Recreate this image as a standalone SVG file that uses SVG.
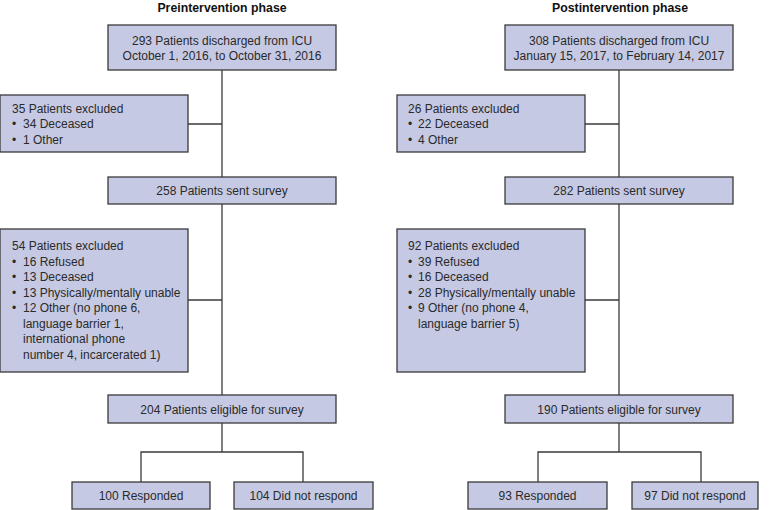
<svg xmlns="http://www.w3.org/2000/svg" width="770" height="510" viewBox="0 0 770 510">
<style>
.box{fill:#c6c9e3;stroke:#3a3a3a;stroke-width:1.3}
.ln{fill:none;stroke:#3a3a3a;stroke-width:1.3}
text{font-family:"Liberation Sans",Arial,sans-serif;font-size:12px;fill:#2a2a2a}
.c{text-anchor:middle}
.t{font-weight:bold;font-size:12.3px;fill:#111}
</style>
<rect width="770" height="510" fill="#fff"/>
<text class="c t" x="222" y="12">Preintervention phase</text>
<text class="c t" x="620" y="12">Postintervention phase</text>
<g id="connectors">
<path class="ln" d="M222 70V395M188 124H222M188 300H222M222 423V452M141 482V452H303V482"/>
<path class="ln" d="M619 70V395M585 124H619M585 300H619M619 423V452M538 482V452H701V482"/>
</g>
<g id="pre_discharged"><rect class="box" x="108" y="25" width="228" height="45"/>
<text class="c" x="222" y="44.5">293 Patients discharged from ICU</text>
<text class="c" x="222" y="59.5">October 1, 2016, to October 31, 2016</text></g>
<g id="pre_excluded1"><rect class="box" x="0" y="95" width="188" height="57"/>
<text x="12" y="112.5">35 Patients excluded</text>
<text x="12" y="128">•</text><text x="23" y="128">34 Deceased</text>
<text x="12" y="143.5">•</text><text x="23" y="143.5">1 Other</text></g>
<g id="pre_sent"><rect class="box" x="108" y="177" width="228" height="27"/>
<text class="c" x="222" y="195">258 Patients sent survey</text></g>
<g id="pre_excluded2"><rect class="box" x="0" y="229" width="188" height="143"/>
<text x="12" y="250">54 Patients excluded</text>
<text x="12" y="265.5">•</text><text x="23" y="265.5">16 Refused</text>
<text x="12" y="281">•</text><text x="23" y="281">13 Deceased</text>
<text x="12" y="296.5">•</text><text x="23" y="296.5">13 Physically/mentally unable</text>
<text x="12" y="312">•</text><text x="23" y="312">12 Other (no phone 6,</text>
<text x="23" y="327.5">language barrier 1,</text>
<text x="23" y="343">international phone</text>
<text x="23" y="358.5">number 4, incarcerated 1)</text></g>
<g id="pre_eligible"><rect class="box" x="108" y="395" width="228" height="28"/>
<text class="c" x="222" y="414">204 Patients eligible for survey</text></g>
<g id="pre_responded"><rect class="box" x="72" y="482" width="138" height="27"/>
<text class="c" x="141" y="500">100 Responded</text></g>
<g id="pre_noresp"><rect class="box" x="234" y="482" width="139" height="27"/>
<text class="c" x="303.5" y="500">104 Did not respond</text></g>

<g id="post_discharged"><rect class="box" x="505" y="25" width="228" height="45"/>
<text class="c" x="619" y="44.5">308 Patients discharged from ICU</text>
<text class="c" x="619" y="59.5">January 15, 2017, to February 14, 2017</text></g>
<g id="post_excluded1"><rect class="box" x="397" y="95" width="188" height="57"/>
<text x="408" y="112.5">26 Patients excluded</text>
<text x="408" y="128">•</text><text x="418" y="128">22 Deceased</text>
<text x="408" y="143.5">•</text><text x="418" y="143.5">4 Other</text></g>
<g id="post_sent"><rect class="box" x="505" y="177" width="228" height="27"/>
<text class="c" x="619" y="195">282 Patients sent survey</text></g>
<g id="post_excluded2"><rect class="box" x="397" y="229" width="188" height="143"/>
<text x="408" y="250">92 Patients excluded</text>
<text x="408" y="265.5">•</text><text x="418" y="265.5">39 Refused</text>
<text x="408" y="281">•</text><text x="418" y="281">16 Deceased</text>
<text x="408" y="296.5">•</text><text x="418" y="296.5">28 Physically/mentally unable</text>
<text x="408" y="312">•</text><text x="418" y="312">9 Other (no phone 4,</text>
<text x="418" y="327.5">language barrier 5)</text></g>
<g id="post_eligible"><rect class="box" x="505" y="395" width="228" height="28"/>
<text class="c" x="619" y="414">190 Patients eligible for survey</text></g>
<g id="post_responded"><rect class="box" x="468" y="482" width="139" height="27"/>
<text class="c" x="537.5" y="500">93 Responded</text></g>
<g id="post_noresp"><rect class="box" x="632" y="482" width="126" height="27"/>
<text class="c" x="695" y="500">97 Did not respond</text></g>
</svg>
